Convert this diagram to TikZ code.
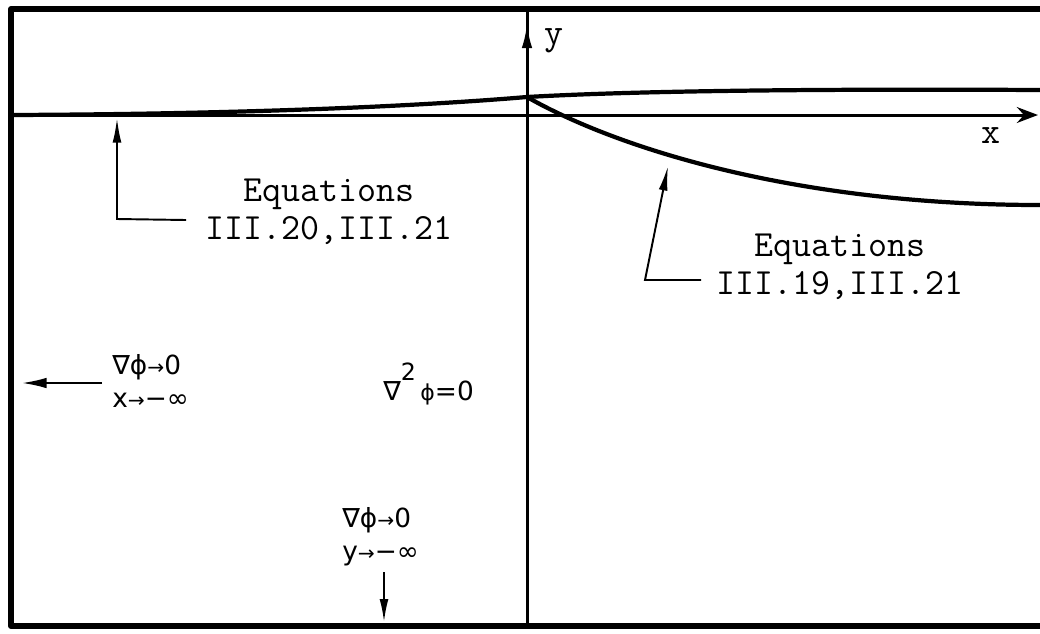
\documentclass[tikz,border=0pt]{standalone}
\usepackage{fontspec}
\newfontfamily\symf{DejaVu Sans}
\usetikzlibrary{arrows.meta,decorations.markings,calc}
\tikzset{
  frameline/.style={line width=3.4pt},
  axisline/.style={line width=1.7pt},
  curveline/.style={line width=2.4pt},
  leaderline/.style={line width=1.1pt},
  eqlabel/.style={font=\ttfamily\fontsize{21}{21.5}\selectfont, align=center, inner sep=0pt},
  axlabel/.style={font=\ttfamily\fontsize{21}{21.5}\selectfont, inner sep=0pt, anchor=base},
  symlabel/.style={font=\symf\fontsize{15}{18.6}\selectfont, align=left, inner sep=0pt, anchor=west},
  tipA/.tip={Latex[length=14pt,width=6pt]},
  midarrow/.style={postaction={decorate}, decoration={markings, mark=at position #1 with {\arrow{tipA}}}}
}
\newcommand{\sar}{{\fontsize{11.5}{11.5}\selectfont →}}
\begin{document}
\begin{tikzpicture}[x=0.02cm,y=-0.02cm]
\useasboundingbox (0,0) rectangle (1040,633);
% frame
\coordinate (ftr) at (1040,9);
\coordinate (ftl) at (11,9);
\coordinate (fbl) at (11,626);
\coordinate (fbr) at (1040,626);
\draw[frameline, line join=round] (ftr) -- (ftl) -- (fbl) -- (fbr);
% axes
\coordinate (ytop) at (527,10);
\coordinate (ybot) at (527,626);
\coordinate (xl) at (11,115);
\coordinate (xr) at (1038,115);
\draw[axisline, midarrow=0.978] (ybot) -- (ytop);
\draw[axisline, -{Stealth[length=12pt,width=9pt,inset=4pt]}] (xl) -- (xr);
\node[axlabel] (ylab) at (554,44) {y};
\node[axlabel] (xlab) at (991,143) {x};
% curves
\coordinate (O) at (527,97);
\coordinate (ul) at (11,115);
\coordinate (ur) at (1040,90);
\coordinate (lr) at (1040,205);
\draw[curveline] (ul) .. controls (250,114) and (420,106) .. (O);
\draw[curveline] (O) .. controls (650,90) and (850,89) .. (ur);
\draw[curveline] (O) .. controls (620,150) and (800,205) .. (lr);
% labels
\node[eqlabel] (eq1) at (329,212) {Equations\\III.20,III.21};
\node[eqlabel] (eq2) at (840,267) {Equations\\III.19,III.21};
% leaders
\coordinate (l1a) at ($(eq1.west)+(-19,8)$);
\coordinate (l1b) at (117,219);
\coordinate (l1c) at (117,118);
\draw[leaderline, -{Latex[length=14pt,width=5pt]}] (l1a) -- (l1b) -- (l1c);
\coordinate (l2a) at ($(eq2.west)+(-15,13)$);
\coordinate (l2b) at (645,280);
\coordinate (l2c) at (668,166);
\draw[leaderline, -{Latex[length=14pt,width=5pt]}] (l2a) -- (l2b) -- (l2c);
% boundary conditions
\node[symlabel] (bcx) at (112,381) {∇ϕ\sar 0\\x\sar −∞};
\coordinate (lae) at (22,383);
\draw[leaderline, -{Latex[length=14pt,width=6pt]}] ($(bcx.west)+(-10,2)$) -- (lae);
\node[symlabel, anchor=base west] (lap) at (383,400) {∇\raisebox{11pt}{\fontsize{13.5}{13.5}\selectfont 2}\,{\fontsize{12.5}{12.5}\selectfont ϕ}=0};
\node[symlabel] (bcy) at (342,537) {∇ϕ\sar 0\\y\sar −∞};
\coordinate (bae) at (384,622);
\draw[leaderline, -{Latex[length=13pt,width=5pt]}] (bcy.south -| bae) ++(0,6) coordinate (bas) (bas) -- (bae);
\end{tikzpicture}
\end{document}
